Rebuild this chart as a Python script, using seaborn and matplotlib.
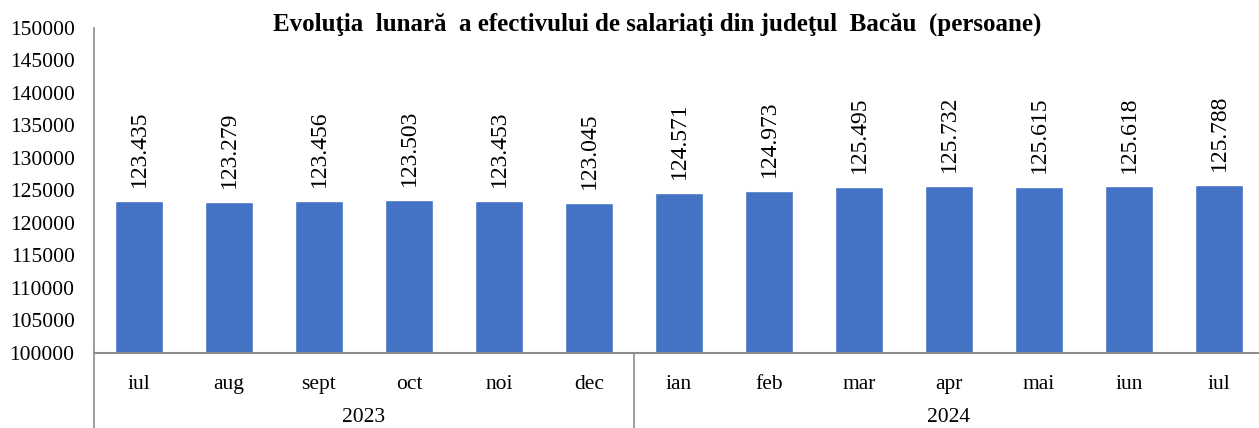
import numpy as np
import pandas as pd
import matplotlib
matplotlib.use("Agg")
import matplotlib.pyplot as plt
import seaborn as sns

# data
months = ['iul', 'aug', 'sept', 'oct', 'noi', 'dec',
          'ian', 'feb', 'mar', 'apr', 'mai', 'iun', 'iul']
years = ['2023'] * 6 + ['2024'] * 7
values = [123435, 123279, 123456, 123503, 123453, 123045,
          124571, 124973, 125495, 125732, 125615, 125618, 125788]

df = pd.DataFrame({'key': [f'{m} {y}' for m, y in zip(months, years)],
                   'luna': months, 'an': years, 'salariati': values})

sns.set_theme(style='white')
plt.rcParams['font.family'] = ['Liberation Serif', 'DejaVu Serif']
plt.rcParams['text.color'] = 'black'
plt.rcParams['xtick.color'] = 'black'
plt.rcParams['ytick.color'] = 'black'

fig = plt.figure(figsize=(12.59, 4.28), dpi=100)
# the plot area runs slightly past the right edge, as in the original
ax = fig.add_axes([94 / 1259, 1 - 353 / 428, 1170 / 1259, 325 / 428])

sns.barplot(data=df, x='key', y='salariati', color='#4472C4', width=0.53,
            saturation=1, ax=ax)

ax.set_ylim(100000, 150000)
ax.set_yticks(np.arange(100000, 150001, 5000))
ax.set_yticklabels([str(v) for v in range(100000, 150001, 5000)], fontsize=15.5)
ax.tick_params(axis='y', length=0, pad=14)
ax.set_xlim(-0.5, len(months) - 0.5)
ax.set_xticks(range(len(months)))
ax.set_xticklabels(months, fontsize=15.5)
ax.tick_params(axis='x', length=0, pad=16)
ax.set_xlabel('')
ax.set_ylabel('')

for s in ['top', 'right']:
    ax.spines[s].set_visible(False)
ax.spines['bottom'].set_color('#8c8c8c')
ax.spines['bottom'].set_linewidth(1.5)
ax.spines['left'].set_color('#8c8c8c')
ax.spines['left'].set_linewidth(1.2)

# value labels
for i, v in enumerate(values):
    txt = f'{v:,}'.replace(',', '.')
    ax.annotate(txt, (i, v), xytext=(0, 10), textcoords='offset points',
                ha='center', va='bottom', rotation=90, fontsize=17)

# multi-level axis: year groups and separators
trans = ax.get_xaxis_transform()
ax.plot([-0.5, -0.5], [0, -0.24], transform=trans, color='#8c8c8c', lw=1.2, clip_on=False)
ax.plot([5.5, 5.5], [0, -0.24], transform=trans, color='#8c8c8c', lw=1.2, clip_on=False)
ax.text(2.5, -0.2, '2023', transform=trans, ha='center', va='center', fontsize=15.5)
ax.text(9.0, -0.2, '2024', transform=trans, ha='center', va='center', fontsize=15.5)

fig.text(657 / 1259, 1 - 24 / 428,
         'Evoluţia  lunară  a efectivului de salariaţi din judeţul  Bacău  (persoane)',
         ha='center', va='center', fontsize=18, fontweight='bold')

fig.savefig('out.png', dpi=100)
